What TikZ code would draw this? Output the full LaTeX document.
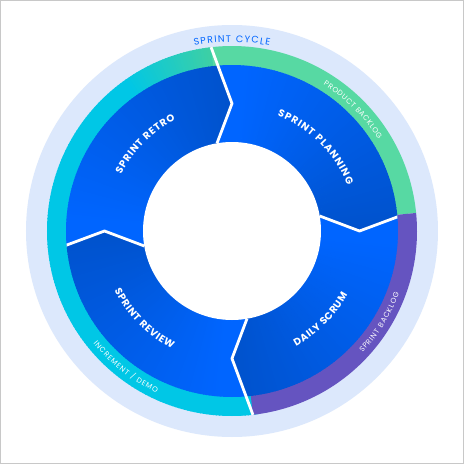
\documentclass[tikz,border=0pt]{standalone}
\usepackage{fontspec}
\setmainfont{Poppins}
\usetikzlibrary{decorations.text}
\definecolor{ringlight}{HTML}{DCE8FC}
\definecolor{pgreen}{HTML}{57D9A3}
\definecolor{ppurple}{HTML}{6554C0}
\definecolor{pcyan}{HTML}{00C7E6}
\definecolor{pteal}{HTML}{3CCFA6}
\definecolor{segbright}{HTML}{0065FF}
\definecolor{segdark}{HTML}{0052CC}
\definecolor{cycleblue}{HTML}{0065FF}
\definecolor{frame}{HTML}{C8C8C8}
\newcommand\segfont{\fontsize{10}{10}\selectfont\bfseries}
\newcommand\ringfont{\fontsize{7.3}{7.3}\selectfont}
\newcommand\cyclefont{\fontsize{9.5}{9.5}\selectfont}
\tikzset{
  seglabel/.style={decorate, decoration={text along path, text align=fit to path, text color=white, text={|\segfont|#1}}},
  ringlabel/.style={decorate, decoration={text along path, text align=fit to path, text color=white, text={|\ringfont|#1}}},
  cyclelabel/.style={decorate, decoration={text along path, text align=fit to path, text color=cycleblue, text={|\cyclefont|#1}}},
  divider/.style={draw=white, line width=2.8pt, line join=miter}
}
\begin{document}
\begin{tikzpicture}[x=1pt,y=1pt]
\useasboundingbox (-232pt,-233pt) rectangle (232pt,231pt);
\fill[white] (-232pt,-233pt) rectangle (232pt,231pt);
\draw[frame, line width=1pt] (-231.5pt,-232.5pt) rectangle (231.5pt,230.5pt);
% outer light ring
\fill[ringlight] (0,0) circle (206pt);
% coloured ring
\foreach \a in {96,...,277} {
  \pgfmathsetmacro\p{max(0,min(100,(125-\a)*100/28))}
  \fill[pteal!\p!pcyan] (0,0) -- (\a:185pt) arc[start angle=\a, end angle=\a+1.3, radius=185pt] -- cycle;
}
\fill[pgreen] (0,0) -- (5.6:185pt) arc[start angle=5.6, end angle=96.5, radius=185pt] -- cycle;
\fill[ppurple] (0,0) -- (-83.5:185pt) arc[start angle=-83.5, end angle=5.6, radius=185pt] -- cycle;
% blue segments with gradient
\foreach \s in {90,0,-90,-180} {
  \pgfmathsetmacro\e{\s-90}
  \begin{scope}
    \clip (0,0) -- (\s+9.7:89pt) -- (\s:127.5pt) -- (\s+6.5:185pt)
      arc[start angle=\s+6.5, end angle=\e+6.5, radius=185pt]
      -- (\e:127.5pt) -- (\e+9.7:89pt) -- cycle;
    \foreach \i in {-12,...,102} {
      \pgfmathsetmacro\a{\e+\i}
      \pgfmathsetmacro\p{max(0,min(100,\i*100/85))}
      \fill[segbright!\p!segdark] (0,0) -- (\a:166pt) arc[start angle=\a, end angle=\a+1.3, radius=166pt] -- cycle;
    }
  \end{scope}
}
% dividers
\begin{scope}
  \clip (0,0) circle (185pt);
  \draw[divider] (99.7:89pt) -- (90:127.5pt) -- (96.5:185pt);
  \draw[divider] (-80.3:89pt) -- (-90:127.5pt) -- (-83.5:185pt);
\end{scope}
\begin{scope}
  \clip (0,0) circle (166pt);
  \draw[divider] (9.7:89pt) -- (0:127.5pt) -- (6.5:185pt);
  \draw[divider] (189.7:89pt) -- (180:127.5pt) -- (186.5:185pt);
\end{scope}
% inner white circle
\fill[white] (0,0) circle (89pt);
% segment labels
\path[seglabel={SPRINT PLANNING}] (68.5:124pt) arc[start angle=68.5, end angle=21.5, radius=124pt];
\path[seglabel={SPRINT RETRO}] (153:124.5pt) arc[start angle=153, end angle=117, radius=124.5pt];
\path[seglabel={DAILY SCRUM}] (-61:132pt) arc[start angle=-61, end angle=-29, radius=132pt];
\path[seglabel={SPRINT REVIEW}] (207:132pt) arc[start angle=207, end angle=243, radius=132pt];
% ring labels
\path[ringlabel={PRODUCT BACKLOG}] (58:172.5pt) arc[start angle=58, end angle=32, radius=172.5pt];
\path[ringlabel={SPRINT BACKLOG}] (-43:178.5pt) arc[start angle=-43, end angle=-20.5, radius=178.5pt];
\path[ringlabel={INCREMENT / DEMO}] (219:178.5pt) arc[start angle=219, end angle=245, radius=178.5pt];
\path[cyclelabel={SPRINT CYCLE}] (101.5:189pt) arc[start angle=101.5, end angle=78.5, radius=189pt];
\end{tikzpicture}
\end{document}
